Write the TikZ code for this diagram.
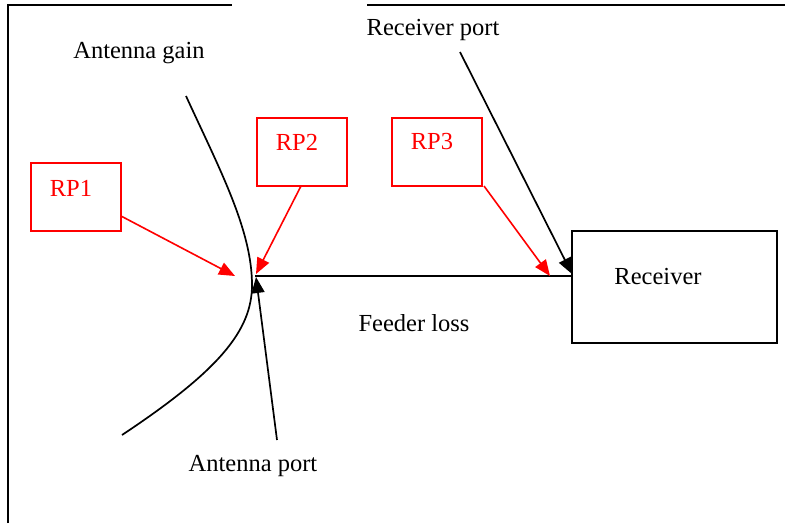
\documentclass[tikz,border=0pt]{standalone}
\usepackage{fontspec}
\setmainfont{Liberation Serif}
\usetikzlibrary{arrows.meta}
\begin{document}
\begin{tikzpicture}[x=1pt,y=-1pt,
  lbl/.style={inner sep=0pt,font=\fontsize{24.5}{28}\selectfont},
  rpbox/.style={draw=red,line width=1.6pt,minimum width=90pt,minimum height=68pt,inner sep=0pt},
  rptext/.style={lbl,text=red},
  blk/.style={line width=1.7pt},
  redarr/.style={draw=red,line width=1.6pt,-{Triangle[length=16pt,width=13pt]}},
  blkarr/.style={draw=black,line width=1.7pt,-{Triangle[length=16pt,width=13pt]}}]
\useasboundingbox (0,0) rectangle (785,523);
% frame
\draw[blk] (8,523) -- (8,5) -- (232,5);
\draw[blk] (367,5) -- (785,5);
% antenna curve
\draw[blk] (186,96) .. controls (220,170) and (252,230) .. (252,285)
  .. controls (252,330) and (220,370) .. (122,435);
% receiver
\node[draw,blk,minimum width=205pt,minimum height=112pt,inner sep=0pt] (rx) at (674.5,287) {};
\node[lbl] (rxt) at (658,277) {Receiver};
% feeder line
\coordinate (ap) at (255,276);
\coordinate (rxin) at (572,276);
\draw[blk] (ap) -- (rxin);
% RP boxes
\node[rpbox] (rp1) at (76,197) {};
\node[rptext] at (71,188) {RP1};
\node[rpbox] (rp2) at (302,152) {};
\node[rptext] at (297,142) {RP2};
\node[rpbox] (rp3) at (437,152) {};
\node[rptext] at (432,142) {RP3};
% labels
\node[lbl] (gain) at (139,53) {Antenna gain};
\node[lbl] (rport) at (433,30) {Receiver port};
\node[lbl] (feed) at (414,323) {Feeder loss};
\node[lbl] (aport) at (253,466) {Antenna port};
% arrow end points
\coordinate (rp1s) at (121,216);
\coordinate (rp1e) at (235,276);
\coordinate (rp2s) at (301,186);
\coordinate (rp2e) at (256,274);
\coordinate (rp3s) at (484,186);
\coordinate (rp3e) at (550,276);
\coordinate (rps) at (460,52);
\coordinate (rpe) at (572,274);
\coordinate (aps) at (277,440);
\coordinate (ape) at (256,277);
\draw[redarr] (rp1s) -- (rp1e);
\draw[redarr] (rp2s) -- (rp2e);
\draw[redarr] (rp3s) -- (rp3e);
\draw[blkarr] (rps) -- (rpe);
\draw[blkarr] (aps) -- (ape);
\end{tikzpicture}
\end{document}
